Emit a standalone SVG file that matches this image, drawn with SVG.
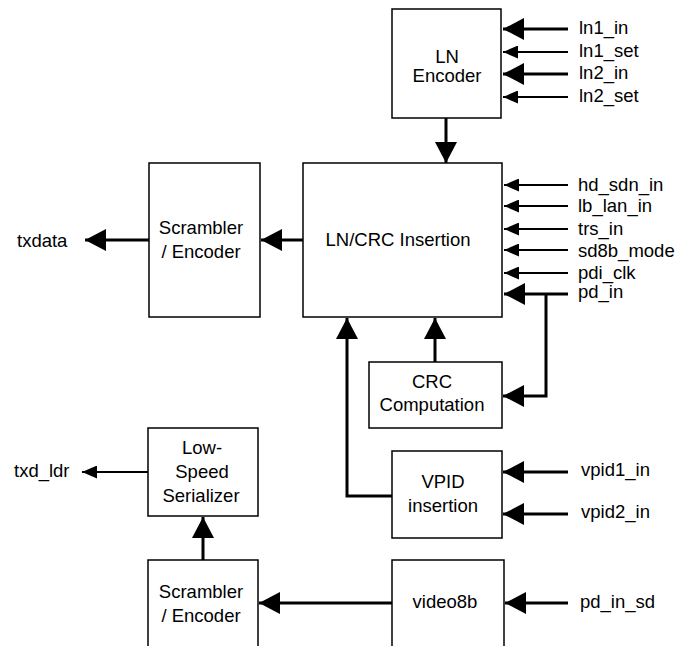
<svg xmlns="http://www.w3.org/2000/svg" width="678" height="646" viewBox="0 0 678 646">
<style>
.box{fill:#fff;stroke:#000;stroke-width:1.5}
text{font-family:"Liberation Sans",Arial,sans-serif;font-size:18.5px;fill:#000}
.c{text-anchor:middle}
.thick{fill:none;stroke:#000;stroke-width:3}
.thin{fill:none;stroke:#000;stroke-width:1.8}
.big{marker-end:url(#ab)}
.small{marker-end:url(#as)}
</style>
<defs>
<marker id="ab" markerWidth="21" markerHeight="22" refX="21" refY="11" orient="auto" markerUnits="userSpaceOnUse"><path d="M0,0 L21,11 L0,22 Z" fill="#000"/></marker>
<marker id="as" markerWidth="15" markerHeight="13" refX="15" refY="6.5" orient="auto" markerUnits="userSpaceOnUse"><path d="M0,0 L15,6.5 L0,13 Z" fill="#000"/></marker>
</defs>
<rect width="678" height="646" fill="#fff"/>
<g id="connectors">
<path class="thick big" d="M568,29 H503"/>
<path class="thin small" d="M568,52 H503"/>
<path class="thick big" d="M568,74 H503"/>
<path class="thin small" d="M568,97 H503"/>
<path class="thick big" d="M446,118 V163"/>
<path class="thin small" d="M568,185 H504"/>
<path class="thin small" d="M568,206 H504"/>
<path class="thin small" d="M568,229 H504"/>
<path class="thin small" d="M568,250 H504"/>
<path class="thin small" d="M568,273 H504"/>
<path class="thick big" d="M568,294 H504"/>
<path class="thick big" d="M546,294 V396 H503"/>
<path class="thick big" d="M303,240 H261"/>
<path class="thick big" d="M149,240 H85"/>
<path class="thick big" d="M435,362 V318"/>
<path class="thick big" d="M392,496 H347 V318"/>
<path class="thick big" d="M568,472 H503"/>
<path class="thick big" d="M568,514 H503"/>
<path class="thick big" d="M568,603 H505"/>
<path class="thick big" d="M392,603 H259"/>
<path class="thick big" d="M203,560 V517"/>
<path class="thin small" d="M148,472 H82"/>
</g>
<g id="ln_encoder"><rect class="box" x="392" y="9" width="109" height="109"/><text class="c" x="447" y="63">LN</text><text class="c" x="447" y="82">Encoder</text></g>
<g id="ln_crc_insertion"><rect class="box" x="303" y="163" width="199" height="154"/><text class="c" x="398" y="246">LN/CRC Insertion</text></g>
<g id="scrambler_top"><rect class="box" x="149" y="163" width="111" height="154"/><text class="c" x="201" y="234">Scrambler</text><text class="c" x="201" y="258">/ Encoder</text></g>
<g id="crc_computation"><rect class="box" x="369" y="362" width="133" height="66"/><text class="c" x="432" y="388">CRC</text><text class="c" x="432" y="411">Computation</text></g>
<g id="vpid_insertion"><rect class="box" x="392" y="451" width="110" height="87"/><text class="c" x="443" y="488">VPID</text><text class="c" x="443" y="512">insertion</text></g>
<g id="video8b"><rect class="box" x="392" y="560" width="112" height="100"/><text class="c" x="445" y="608">video8b</text></g>
<g id="low_speed_serializer"><rect class="box" x="148" y="428" width="110" height="88"/><text class="c" x="202" y="454">Low-</text><text class="c" x="202" y="478">Speed</text><text class="c" x="201" y="502">Serializer</text></g>
<g id="scrambler_bottom"><rect class="box" x="148" y="560" width="110" height="100"/><text class="c" x="201" y="598">Scrambler</text><text class="c" x="201" y="622">/ Encoder</text></g>
<g id="labels">
<text x="579" y="34">ln1_in</text>
<text x="579" y="57">ln1_set</text>
<text x="579" y="79">ln2_in</text>
<text x="579" y="102">ln2_set</text>
<text x="578" y="191">hd_sdn_in</text>
<text x="578" y="212">lb_lan_in</text>
<text x="578" y="235">trs_in</text>
<text x="578" y="257">sd8b_mode</text>
<text x="578" y="279">pdi_clk</text>
<text x="578" y="298">pd_in</text>
<text x="581" y="476">vpid1_in</text>
<text x="581" y="518">vpid2_in</text>
<text x="580" y="608">pd_in_sd</text>
<text x="17" y="247">txdata</text>
<text x="14" y="477">txd_ldr</text>
</g>
</svg>
